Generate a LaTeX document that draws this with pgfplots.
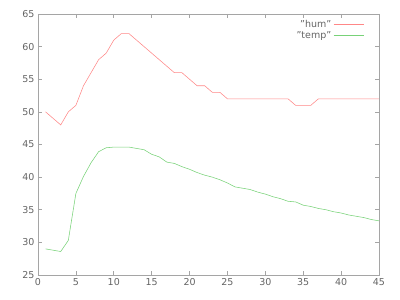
\documentclass[border=0pt]{standalone}
\usepackage{pgfplots}
\pgfplotsset{compat=1.18}
\usepackage{fontspec}
\setmainfont{DejaVu Sans}
\definecolor{humc}{RGB}{255,135,135}
\definecolor{tempc}{RGB}{120,210,120}
\definecolor{axc}{RGB}{165,165,165}
\definecolor{txc}{RGB}{100,100,100}
\begin{document}
\begin{tikzpicture}[x=1pt,y=1pt]
\useasboundingbox (-38,-25) rectangle (362,275);
\begin{axis}[
  scale only axis, width=341pt, height=261pt,
  xmin=0, xmax=45, ymin=25, ymax=65,
  xtick={0,5,...,45}, ytick={25,30,...,65},
  axis line style={axc, line width=0.6pt},
  tick style={axc, line width=0.6pt},
  major tick length=4pt,
  tick align=inside,
  tick label style={font=\fontsize{9.5}{11}\selectfont, text=txc},
  /pgf/number format/assume math mode=true,
  legend style={draw=none, fill=none, at={(1,1)}, anchor=north east,
    xshift=-12pt, yshift=-2pt,
    font=\fontsize{9.5}{11}\selectfont, text=txc, row sep=-1.5pt},
  legend cell align=right,
  legend plot pos=right,
  legend image code/.code={\draw[#1] (0pt,0pt) -- (30pt,0pt);},
]
\addplot[humc, line width=0.55pt] coordinates {
(1,50) (2,49) (3,48) (4,50) (5,51) (6,54) (7,56) (8,58) (9,59) (10,61)
(11,62) (12,62) (13,61) (14,60) (15,59) (16,58) (17,57) (18,56) (19,56) (20,55)
(21,54) (22,54) (23,53) (24,53) (25,52) (26,52) (27,52) (28,52) (29,52) (30,52)
(31,52) (32,52) (33,52) (34,51) (35,51) (36,51) (37,52) (38,52) (39,52) (40,52)
(41,52) (42,52) (43,52) (44,52) (45,52)};
\addlegendentry{\symbol{34}hum\symbol{34}}
\addplot[tempc, line width=0.55pt] coordinates {
(1,29.0) (2,28.8) (3,28.6) (4,30.3) (5,37.5) (6,40.1) (7,42.2) (8,43.9) (9,44.5) (10,44.6)
(11,44.6) (12,44.6) (13,44.4) (14,44.2) (15,43.5) (16,43.1) (17,42.3) (18,42.1) (19,41.6) (20,41.2)
(21,40.7) (22,40.3) (23,40.0) (24,39.6) (25,39.1) (26,38.5) (27,38.3) (28,38.1) (29,37.7) (30,37.4)
(31,37.0) (32,36.7) (33,36.3) (34,36.2) (35,35.7) (36,35.5) (37,35.2) (38,35.0) (39,34.7) (40,34.5)
(41,34.2) (42,34.0) (43,33.8) (44,33.5) (45,33.3)};
\addlegendentry{\symbol{34}temp\symbol{34}}
\end{axis}
\end{tikzpicture}
\end{document}
